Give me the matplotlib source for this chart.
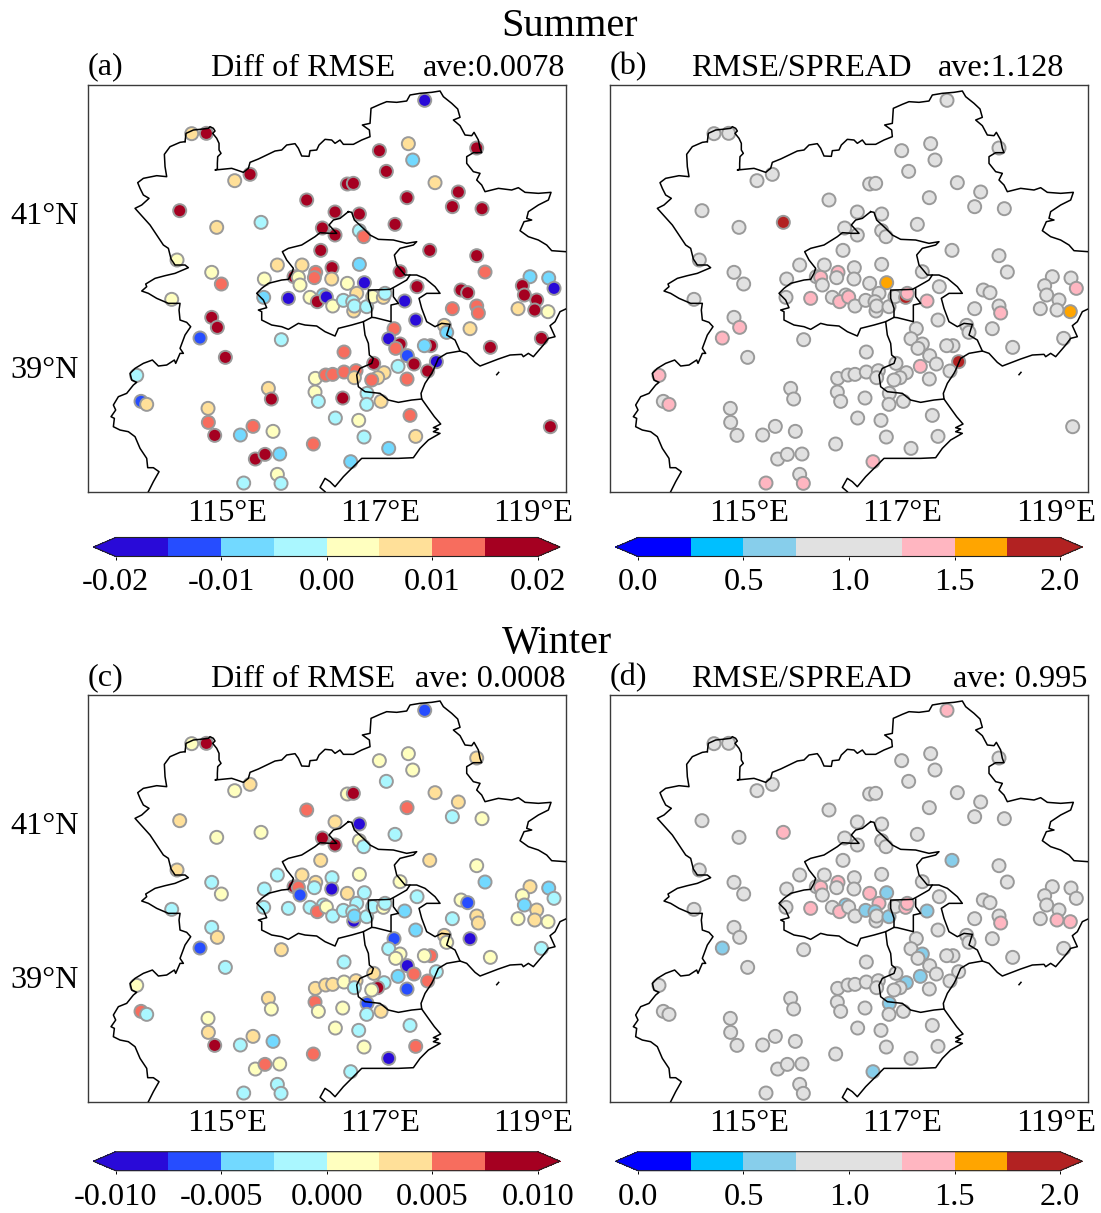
import numpy as np
import matplotlib
matplotlib.use("Agg")
import matplotlib.pyplot as plt
from matplotlib.colors import ListedColormap, BoundaryNorm
from matplotlib.cm import ScalarMappable

plt.rcParams['font.family'] = ['Liberation Serif', 'DejaVu Serif']

# ---------- data: digitised map grid, 230 x-units and 231 y-units per degree ----------
station_x = [1019,320,364,1175,883,970,983,904,495,449,
 787,805,1050,1120,665,966,1102,1191,284,395,
 528,750,823,930,712,750,823,836,707,1034,
 1175,276,577,651,741,823,1200,945,380,409,
 538,627,640,645,692,688,740,787,838,1335,
 1391,1407,1312,1318,1355,1349,1389,1299,996,1128,
 1148,1175,1180,1102,959,992,1078,1085,1155,1216,
 1369,536,610,260,675,715,697,724,743,775,
 815,803,806,808,845,863,895,900,380,397,
 345,589,421,927,911,945,932,1037,1018,777,
 967,987,939,1054,1028,866,897,878,860,966,
 155,691,722,743,777,813,808,846,690,700,
 773,550,559,845,888,168,185,369,370,389,
 751,821,975,504,466,564,837,992,1396,685,
 911,511,540,584,797,577,476,588]
station_y = [61,161,160,204,212,191,240,274,283,302,
 312,310,308,336,360,353,380,386,392,442,
 427,396,402,433,444,465,452,470,511,511,
 527,540,555,555,563,553,576,575,577,612,
 597,590,592,615,577,593,597,610,608,590,
 594,625,617,645,660,690,695,686,620,630,
 638,678,699,686,663,720,736,757,746,802,
 775,652,655,658,652,645,665,651,678,661,
 640,665,693,678,680,650,652,640,712,742,
 774,779,832,746,776,792,805,797,797,816,
 827,852,859,845,873,850,878,893,900,897,
 886,895,885,883,876,872,893,940,936,964,
 954,925,957,973,964,964,973,985,1027,1066,
 1014,1021,1006,1039,1065,1054,1071,1069,1040,1092,
 1105,1137,1123,1122,1145,1183,1209,1210]

summer_diff = [-.0175,.0075,.0175,.0175,.0175,.0075,-.0075,.0175,.0175,.0075,
 .0175,.0175,.0075,.0175,.0175,.0175,.0175,.0175,.0175,.0075,
 -.0025,.0175,.0175,.0175,.0175,.0175,-.0025,.0125,.0175,.0175,
 .0175,.0025,.0075,.0075,.0175,-.0075,.0125,.0175,.0025,.0125,
 .0025,.0175,.0025,.0025,.0125,.0125,.0075,.0025,-.0175,-.0075,
 -.0075,-.0175,.0175,.0175,.0175,.0175,.0025,.0075,.0175,.0175,
 .0175,.0125,.0125,.0125,-.0175,-.0175,.0075,-.0075,.0075,.0175,
 .0175,-.0075,-.0175,.0025,.0025,-.0075,.0175,-.0175,.0025,-.0025,
 .0075,-.0025,.0075,-.0025,-.0025,.0025,.0075,-.0025,.0175,.0175,
 -.0125,-.0025,.0175,.0125,-.0175,.0175,.0125,.0175,-.0075,.0125,
 -.0125,.0175,-.0025,-.0175,.0175,.0175,.0075,.0075,.0125,.0125,
 -.0025,.0025,.0125,.0125,.0125,.0125,.0075,-.0025,.0025,-.0025,
 .0175,.0075,.0175,-.0025,.0075,-.0125,.0075,.0075,.0125,.0175,
 -.0025,.0025,.0125,.0125,-.0075,.0025,-.0025,.0075,.0175,.0125,
 -.0075,.0175,.0175,-.0075,-.0075,.0025,-.0025,-.0025]

winter_diff = [-.00625,.00125,.00875,.00375,.00125,.00125,.00125,-.00125,.00375,.00125,
 .00125,.00875,.00375,.00375,.00625,.00625,-.00125,.00125,.00375,.00125,
 .00125,.00375,-.00875,-.00125,.00875,.00875,.00125,-.00125,.00375,.00375,
 .00125,.00375,-.00125,.00375,-.00125,.00125,-.00375,.00125,-.00125,.00125,
 -.00125,.00875,.00625,-.00625,.00375,-.00125,-.00875,.00375,-.00125,.00375,
 -.00375,-.00125,.00125,-.00375,.00375,.00375,.00125,.00125,-.00125,.00125,
 -.00625,.00375,.00375,-.00125,-.00375,-.00375,.00375,.00125,-.00875,.00125,
 -.00125,-.00125,-.00125,-.00125,-.00125,-.00125,.00625,.00125,-.00125,-.00125,
 -.00125,-.00125,-.00875,-.00375,-.00125,-.00125,.00125,-.00125,-.00125,.00375,
 -.00625,.00375,-.00125,-.00625,-.00125,.00125,.00125,.00625,.00125,-.00125,
 -.00875,.00625,-.00375,-.00125,.00625,.00375,-.00125,.00875,.00125,-.00625,
 .00125,.00375,.00375,.00375,.00125,.00375,-.00125,-.00625,.00625,.00125,
 .00125,.00375,.00125,-.00125,.00375,.00625,-.00125,.00125,.00375,.00875,
 .00125,-.00125,-.00125,.00375,-.00125,-.00375,.00125,.00625,np.nan,.00625,
 -.00875,.00125,.00625,.00125,-.00125,-.00125,-.00125,-.00125]

summer_ratio = [1,1,1,1,1,1,1,1,1,1,
 1,1,1,1,1,1,1,1,1,1,
 1.9,1,1,1,1,1,1,1,1,1,
 1,1,1,1,1,1,1,1,1,1,
 1,1,1.4,1,1.4,1,1,1,1.6,1,
 1,1.4,1,1,1,1,1.6,1,1,1,
 1,1,1.4,1,1.4,1,1,1,1,1,
 1,1,1.4,1,1,1,1.4,1.4,1,1,
 1,1,1,1,1,1,1.9,1.4,1,1.4,
 1.4,1,1,1,1,1,1,1,1,1,
 1,1,1.4,1.9,1,1,1,1,1,1,
 1.4,1,1,1,1,1,1,1,1,1,
 1,1,1,1,1,1,1.4,1,1,1,
 1,1,1,1,1,1,1,1,1,1,
 1,1,1,1,1.4,1,1.4,1.4]

winter_ratio = [1.4,1,1,1,1,1,1,1,1,1,
 1,1,1,1,1,1,1,1,1,1,
 1.4,1,1,1,1,1,1,1,1,.6,
 1,1,1,1,1,1,1,1,1,1,
 1,1,1.4,1,1.4,1,1,1.4,.6,1,
 1,1,1,1,1,1.4,1.4,1,1,1,
 1,1,1.4,1,.6,1,1,1,1,1,
 1,1,1.4,1,1,.6,1.4,1,1,.6,
 1.4,.6,1,1,.6,1,1.4,1.4,1,1,
 .6,1,1,1,1,.6,1,1,1,1,
 1,1,.6,1,1,1,.6,1,1,1,
 1,1,1,1,1,1,1,.6,1,1,
 1,1,1,1,1,1,1,1,1,1,
 1,1,1,1,1,1,1,1,np.nan,1,
 1,1,1,1,.6,1,1,1]

# boundaries, same digitised grid
outer_north = [(300,185),(303,160),(325,150),(345,148),(370,145),(375,140),(385,145),(390,153),(383,160),(395,175),
 (402,190),(402,210),(408,220),(398,230),(397,250),(397,267),(390,270),(420,267),(440,265),(455,270),(475,277),
 (490,265),(495,247),(520,237),(545,225),(570,213),(590,210),(605,195),(630,191),(640,205),(650,228),(672,229),
 (675,212),(695,210),(702,195),(720,178),(740,180),(750,190),(765,180),(775,193),(805,193),(830,180),(855,170),
 (853,150),(832,135),(855,130),(858,85),(885,73),(905,65),(935,67),(965,63),(975,45),(1005,40),(1040,37),(1065,33),
 (1075,50),(1100,70),(1118,87),(1125,112),(1105,120),(1125,137),(1140,165),(1160,167),(1167,157),(1180,180),
 (1185,205),(1190,218),(1165,218),(1145,230),(1145,250),(1165,275),(1185,280),(1175,300),(1190,315),(1200,335),
 (1240,325),(1280,330),(1300,323),(1320,337),(1360,340),(1398,337),(1390,360),(1360,375),(1330,395),(1325,415),
 (1340,420),(1317,425),(1305,452),(1330,470),(1360,480),(1385,495),(1400,512),(1442,515)]
outer_coast = [(1442,687),(1425,695),(1410,725),(1395,737),(1410,770),(1390,775),(1375,795),(1345,830),(1330,820),
 (1315,830),(1310,823),(1275,825),(1240,837),(1185,858),(1170,847),(1145,820),(1125,813),(1085,820),(1060,835),
 (1045,870),(1040,880),(1020,910),(1008,940),(1010,957),(1030,985),(1048,1010),(1067,1032),(1045,1043),(1060,1047),
 (1045,1055),(1065,1060),(1030,1080),(1005,1105),(985,1133),(940,1135),(880,1135),(830,1135),(805,1160),(775,1190),
 (750,1220),(735,1205),(720,1195),(705,1222),(720,1235)]
outer_west = [(190,1235),(205,1205),(222,1175),(205,1163),(188,1163),(185,1135),(165,1105),(150,1070),(130,1055),
 (105,1050),(85,1040),(88,1015),(78,1010),(92,990),(85,975),(100,950),(125,940),(145,915),(155,907),(140,900),
 (135,880),(150,865),(175,850),(202,840),(220,858),(245,855),(268,840),(272,850),(285,820),(295,820),(285,805),
 (300,765),(317,740),(305,727),(285,720),(282,690),(285,670),(250,670),(215,655),(190,640),(170,633),(185,620),
 (182,612),(210,595),(240,587),(270,580),(310,563),(300,555),(270,555),(258,537),(250,505),(235,495),(205,450),
 (195,435),(150,385),(170,375),(192,355),(175,345),(165,325),(158,308),(175,295),(215,287),(245,290),(240,260),
 (238,223),(255,200),(285,187),(300,185)]
beijing = [(790,395),(800,397),(808,420),(835,445),(855,465),(880,478),(925,480),(965,490),(995,485),(985,495),
 (945,505),(928,525),(935,555),(960,585),(975,585),(965,600),(930,620),(915,628),(860,630),(850,630),(850,655),
 (860,685),(860,712),(835,725),(800,735),(760,745),(750,768),(720,755),(695,738),(660,735),(640,730),
 (610,748),(590,740),(560,735),(530,720),(530,695),(520,690),(545,683),(535,660),(515,640),(530,625),(550,610),
 (590,600),(610,598),(620,580),(625,565),(605,540),(592,515),(610,505),(650,495),(690,470),(705,458),(735,460),
 (755,460),(732,435),(745,420),(765,415),(790,395)]
tianjin_east = [(975,585),(995,585),(1020,595),(1050,620),(1065,640),(1025,640),(1002,655),(1010,685),(1025,725),
 (1050,740),(1070,730),(1095,733),(1085,765),(1110,780),(1125,813)]
tianjin_north = [(925,627),(925,650),(940,670),(918,675),(918,725),(870,713),(860,712)]
hebei_south = [(835,725),(840,765),(850,790),(853,825),(865,835),(860,850),(825,865),(815,885),(820,920),(840,935),
 (885,940),(910,960),(940,967),(980,960),(1010,957)]
island = [(1235,884),(1241,877)]

lon_ticks = [115, 117, 119]
lat_ticks = [41, 39]
panel_letters = ['(a)', '(b)', '(c)', '(d)']
season_titles = ['Summer', 'Winter']
diff_levels = np.linspace(-0.02, 0.02, 9)
diff_levels_w = np.linspace(-0.01, 0.01, 9)
ratio_levels = np.linspace(0, 2, 9)
diff_colors = ['#290AD8', '#264DFF', '#72D9FF', '#AAF7FF', '#FFFFBF', '#FFE099', '#F76D5E', '#A50021']
ratio_colors = ['#0000FF', '#00BFFF', '#87CEEB', '#E1E1E1', '#E1E1E1', '#FFB6C1', '#FFA500', '#B22222']

# ---------- grid to geographic ----------
def to_lon(x):
    return 115 + (np.asarray(x, float) - 425) / 230.0
def to_lat(y):
    return 41 - (np.asarray(y, float) - 399) / 231.0

W, H = 1101, 1213
FS = 23.2
fig = plt.figure(figsize=(W / 100, H / 100), dpi=100)

def rect(l, t, r, b):
    return [l / W, 1 - b / H, (r - l) / W, (b - t) / H]

def make_cmap(cols):
    cm = ListedColormap(cols)
    cm.set_under(cols[0])
    cm.set_over(cols[-1])
    return cm

lines = [outer_north, outer_coast, outer_west, beijing, tianjin_east, tianjin_north, hebei_south, island]

def map_panel(l, t, values, levels, colors, ylabels=True):
    ax = fig.add_axes(rect(l, t, l + 478, t + 406.7))
    ax.set_xlim(to_lon(8), to_lon(1442))
    ax.set_ylim(to_lat(1235), to_lat(15))
    cm = make_cmap(colors)
    nm = BoundaryNorm(levels, 8)
    ax.scatter(to_lon(station_x), to_lat(station_y), c=values, cmap=cm, norm=nm,
               s=88, edgecolors='#9A9A9A', linewidths=1.4, zorder=2)
    for seg in lines:
        arr = np.array(seg)
        ax.plot(to_lon(arr[:, 0]), to_lat(arr[:, 1]), color='black', lw=1.1, zorder=3,
                solid_joinstyle='round')
    ax.set_xticks(lon_ticks)
    ax.set_xticklabels([f'{v}°E' for v in lon_ticks], fontsize=FS)
    ax.set_yticks(lat_ticks if ylabels else [])
    if ylabels:
        ax.set_yticklabels([f'{v}°N' for v in lat_ticks], fontsize=FS)
    ax.tick_params(axis='x', length=0, pad=5.5)
    ax.tick_params(axis='y', length=0, pad=6.5)
    for s in ax.spines.values():
        s.set_color('#3A3A3A')
        s.set_linewidth(1.0)
    return ax

def cbar(l, t, levels, colors, labels):
    # l is the first tick; the end triangles lie outside the 422 px inner bar
    cax = fig.add_axes(rect(l - 22.4, t, l + 422 + 22.4, t + 19))
    sm = ScalarMappable(norm=BoundaryNorm(levels, 8), cmap=make_cmap(colors))
    cb = fig.colorbar(sm, cax=cax, orientation='horizontal', extend='both',
                      extendfrac=0.053, spacing='uniform', drawedges=False)
    cb.set_ticks(levels[::2])
    cb.set_ticklabels(labels)
    cb.ax.minorticks_off()
    cb.ax.tick_params(labelsize=FS, length=2.5, width=0.7, pad=6)
    cb.outline.set_linewidth(0.8)
    cb.outline.set_edgecolor('#222222')

def txt(x, y, s, size=FS, ha='left'):
    fig.text(x / W, 1 - y / H, s, fontsize=size, ha=ha, va='baseline')

map_panel(87.7, 85, summer_diff, diff_levels, diff_colors)
map_panel(610, 85, summer_ratio, ratio_levels, ratio_colors, ylabels=False)
map_panel(87.7, 695, winter_diff, diff_levels_w, diff_colors)
map_panel(610, 695, winter_ratio, ratio_levels, ratio_colors, ylabels=False)

cbar(115.7, 537.5, diff_levels, diff_colors, ['-0.02', '-0.01', '0.00', '0.01', '0.02'])
cbar(638, 537.5, ratio_levels, ratio_colors, ['0.0', '0.5', '1.0', '1.5', '2.0'])
cbar(115.7, 1151.7, diff_levels_w, diff_colors, ['-0.010', '-0.005', '0.000', '0.005', '0.010'])
cbar(638, 1151.7, ratio_levels, ratio_colors, ['0.0', '0.5', '1.0', '1.5', '2.0'])

txt(570, 36, season_titles[0], size=29, ha='center')
txt(557, 653, season_titles[1], size=29, ha='center')
txt(88, 74.5, panel_letters[0])
txt(211, 76, 'Diff of RMSE')
txt(423, 76, 'ave:0.0078')
txt(610, 74.5, panel_letters[1])
txt(691, 76, 'RMSE/SPREAD')
txt(938, 76, 'ave:1.128')
txt(88, 685.5, panel_letters[2])
txt(211, 687, 'Diff of RMSE')
txt(566, 687, 'ave: 0.0008', ha='right')
txt(610, 685.5, panel_letters[3])
txt(691, 687, 'RMSE/SPREAD')
txt(953, 687, 'ave: 0.995')

fig.savefig('out.png', dpi=100, facecolor='white')
